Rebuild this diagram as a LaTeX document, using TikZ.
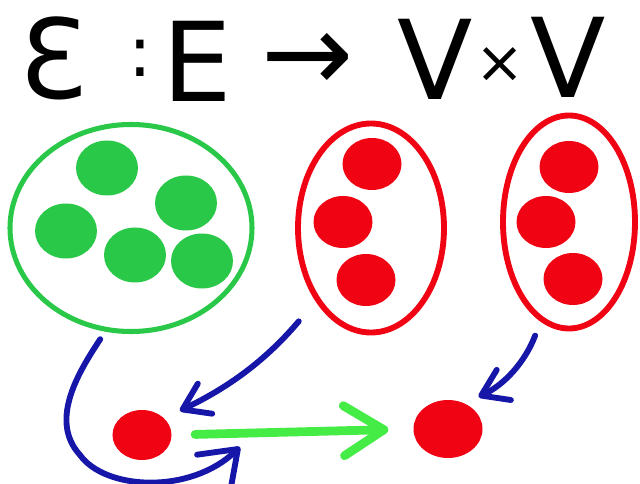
\documentclass[tikz,border=0pt]{standalone}
\usepackage{fontspec}
\setmainfont{DejaVu Sans}
\usetikzlibrary{shapes.geometric,arrows.meta}

\definecolor{pengreen}{RGB}{42,200,72}
\definecolor{penlime}{RGB}{70,236,70}
\definecolor{penred}{RGB}{240,4,20}
\definecolor{penblue}{RGB}{22,22,168}

\tikzset{
  sym/.style={inner sep=0pt,font=\fontsize{94}{94}\selectfont},
  setg/.style={ellipse,draw=pengreen,line width=4.3pt,inner sep=0pt},
  setr/.style={ellipse,draw=penred,line width=5pt,inner sep=0pt},
  dotg/.style={ellipse,fill=pengreen,inner sep=0pt,minimum width=1.86cm,minimum height=1.65cm},
  dotr/.style={ellipse,fill=penred,inner sep=0pt,minimum width=1.77cm,minimum height=1.56cm},
  mapsto/.style={draw=penblue,line width=5pt,line cap=round,-{Straight Barb[round,length=0.75cm,width=1cm]}},
  edgeto/.style={draw=penlime,line width=7.5pt,line cap=round,-{Straight Barb[round,length=1.2cm,width=1.5cm]}}
}

\begin{document}
\begin{tikzpicture}[x=0.03cm,y=-0.03cm]
  \useasboundingbox (0,0) rectangle (640,484);

  % title: the edge map
  \node[sym] (eps) at (53,58) {Ɛ};
  \node[sym,font=\fontsize{60}{60}\selectfont] (colon) at (140,58) {:};
  \node[sym] (edges) at (197,61) {E};
  \node[sym] (maps) at (308,62) {→};
  \node[sym] (vleft) at (435,59) {V};
  \node[sym,font=\fontsize{50}{50}\selectfont] (times) at (500,65) {×};
  \node[sym] (vright) at (568,57) {V};

  % the set of edges and the two copies of the vertex set
  \node[setg,minimum width=7.26cm,minimum height=6.21cm] (greenset) at (131,228) {};
  \node[setr,minimum width=4.38cm,minimum height=6.27cm] (redsetl) at (371,228) {};
  \node[setr,minimum width=3.96cm,minimum height=6.39cm] (redsetr) at (569,222) {};
  \foreach \n/\x/\y in {1/107/168,2/186/203,3/66/231,4/135/255,5/202/261}
    \node[dotg] (g\n) at (\x,\y) {};
  \foreach \n/\x/\y in {1/372/164,2/343/222,3/366/280}
    \node[dotr] (l\n) at (\x,\y) {};
  \foreach \n/\x/\y in {1/569/167,2/546/222,3/573/279}
    \node[dotr] (r\n) at (\x,\y) {};

  % one edge and its two end vertices
  \node[dotr,minimum width=1.77cm,minimum height=1.5cm] (src) at (142,435) {};
  \node[dotr,minimum width=2.07cm,minimum height=1.74cm] (dst) at (448,429) {};
  \coordinate (hook) at (240,447);

  \draw[mapsto,shorten <=0.78cm,shorten >=0.52cm] (redsetl.233) to[bend left=12] (src.37);
  \draw[mapsto,shorten <=0.45cm,shorten >=0.46cm] (redsetr.254) to[bend left=22] (dst.57);
  \draw[edgeto,shorten <=0.7cm,shorten >=0.75cm] (src.east) -- (dst.west);
  \draw[mapsto,-{Straight Barb[round,length=1cm,width=1.45cm]},shorten <=0.27cm]
    (greenset.256) .. controls (80,370) and (48,420) .. (80,455)
    .. controls (105,490) and (190,495) .. (hook);
\end{tikzpicture}
\end{document}
